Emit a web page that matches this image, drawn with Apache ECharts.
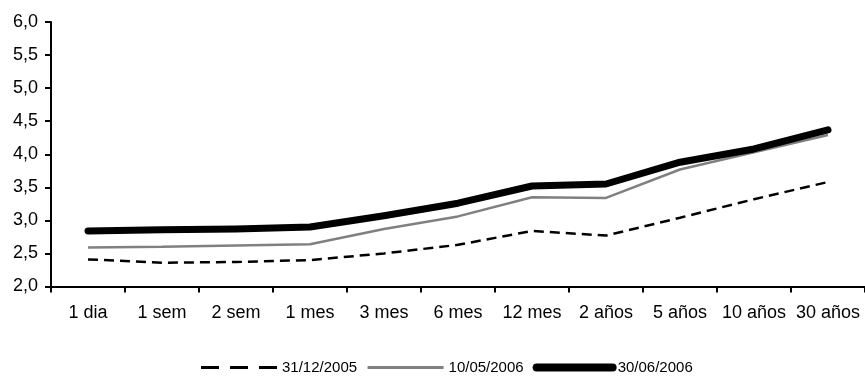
<!DOCTYPE html>
<html>
<head>
<meta charset="utf-8">
<script src="https://cdn.jsdelivr.net/npm/echarts@6/dist/echarts.min.js"></script>
<style>
  html, body { margin: 0; padding: 0; background: #fff; }
  #chart { width: 865px; height: 376px; }
</style>
</head>
<body>
<div id="chart"></div>
<script>
// Yield curve points by maturity
const categories = ['1 dia', '1 sem', '2 sem', '1 mes', '3 mes', '6 mes', '12 mes', '2 años', '5 años', '10 años', '30 años'];
const seriesNames = ['31/12/2005', '10/05/2006', '30/06/2006'];
const values20051231 = [2.41, 2.36, 2.37, 2.40, 2.50, 2.63, 2.84, 2.77, 3.04, 3.32, 3.58];
const values20060510 = [2.59, 2.60, 2.62, 2.64, 2.87, 3.06, 3.35, 3.34, 3.77, 4.03, 4.29];
const values20060630 = [2.84, 2.86, 2.87, 2.90, 3.07, 3.26, 3.52, 3.55, 3.88, 4.08, 4.37];
const yTicks = { min: 2, max: 6, interval: 0.5 };

const fmt = v => v.toFixed(1).replace('.', ',');
const FONT = 'Liberation Sans, Arial, sans-serif';

// long-dash legend swatch: three 18px dashes in a 76x14 box
const longDashIcon = 'path://M0,0M76,14M0,5.5h18v3h-18zM29,5.5h18v3h-18zM58,5.5h18v3h-18z';

const chart = echarts.init(document.getElementById('chart'));
chart.setOption({
  animation: false,
  grid: { left: 51, right: 0, top: 22, bottom: 89.5, containLabel: false },
  legend: {
    top: 360,
    left: 201,
    padding: 0,
    itemWidth: 76,
    itemHeight: 14,
    itemGap: 9,
    symbolKeepAspect: false,
    // only the line part of each series legend icon is shown
    itemStyle: { color: 'transparent', borderColor: 'transparent', opacity: 0 },
    textStyle: { fontFamily: FONT, fontSize: 15, color: '#000' },
    data: [
      { name: seriesNames[0], icon: longDashIcon, itemStyle: { color: '#000', borderColor: 'transparent', borderWidth: 0, opacity: 1 } },
      { name: seriesNames[1], lineStyle: { width: 3 } },
      { name: seriesNames[2], lineStyle: { width: 8, cap: 'round' } }
    ]
  },
  xAxis: {
    type: 'category',
    data: categories,
    boundaryGap: true,
    axisLine: { lineStyle: { color: '#000', width: 2 } },
    axisTick: { show: true, length: 6, lineStyle: { color: '#000', width: 2 } },
    axisLabel: { color: '#000', fontSize: 18, fontFamily: FONT, margin: 18, interval: 0 },
    splitLine: { show: false }
  },
  yAxis: {
    type: 'value',
    min: yTicks.min,
    max: yTicks.max,
    interval: yTicks.interval,
    axisLine: { show: true, lineStyle: { color: '#000', width: 2 } },
    axisTick: { show: true, length: 6, lineStyle: { color: '#000', width: 2 } },
    axisLabel: { color: '#000', fontSize: 18, fontFamily: FONT, margin: 13, formatter: fmt },
    splitLine: { show: false }
  },
  series: [
    {
      name: seriesNames[0], type: 'line', data: values20051231, symbol: 'none', silent: true,
      lineStyle: { color: '#000', width: 2.5, type: [10, 6] }, itemStyle: { color: '#000' }
    },
    {
      name: seriesNames[1], type: 'line', data: values20060510, symbol: 'none', silent: true,
      lineStyle: { color: '#808080', width: 2.5 }, itemStyle: { color: '#808080' }
    },
    {
      name: seriesNames[2], type: 'line', data: values20060630, symbol: 'none', silent: true,
      lineStyle: { color: '#000', width: 7, cap: 'round', join: 'round' }, itemStyle: { color: '#000' }
    }
  ]
});
</script>
</body>
</html>
